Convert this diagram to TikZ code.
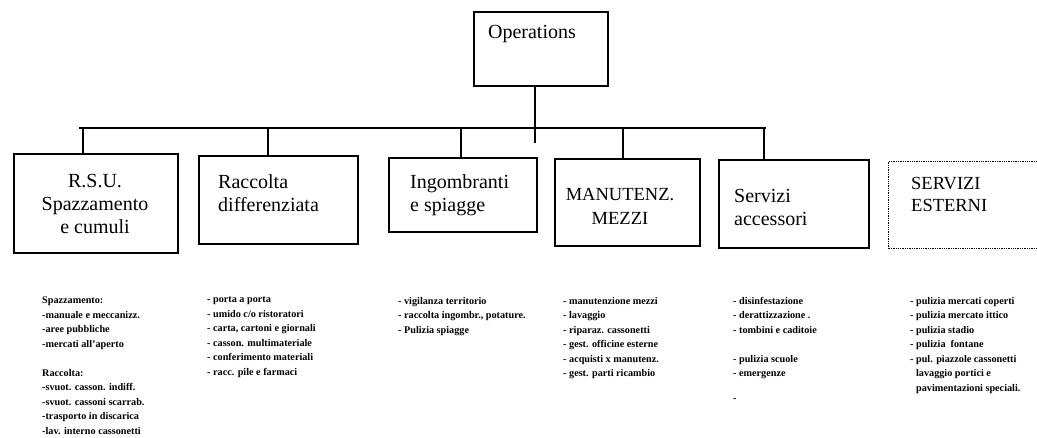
\documentclass[tikz,border=0pt]{standalone}
\usepackage{fontspec}
\setmainfont{Liberation Serif}
\begin{document}
\begin{tikzpicture}[x=1pt,y=-1pt,
  box/.style={draw, line width=2.2pt, inner sep=0pt, anchor=north west},
  conn/.style={line width=1.9pt},
  big/.style={font=\fontsize{20}{23}\selectfont, inner sep=0pt},
  small/.style={font=\fontsize{10.2}{14.5}\selectfont\bfseries, align=left, anchor=north west, inner sep=0pt}]
\useasboundingbox (0,0) rectangle (1037,437);
\fill[white] (0,0) rectangle (1037,437);
\clip (0,0) rectangle (1037,437);

% boxes
\node[box, minimum width=134pt, minimum height=74pt] (ops) at (473,11) {};
\node[box, minimum width=164pt, minimum height=99pt] (rsu) at (13,153) {};
\node[box, minimum width=159pt, minimum height=88pt] (rac) at (198,155) {};
\node[box, minimum width=148pt, minimum height=74pt] (ing) at (388,157) {};
\node[box, minimum width=145pt, minimum height=87pt] (man) at (554,158) {};
\node[box, minimum width=150pt, minimum height=88pt] (acc) at (718,159) {};
\node[draw, densely dotted, line width=1.3pt, inner sep=0pt, anchor=north west,
      minimum width=170pt, minimum height=87pt] (est) at (888,161) {};

% box texts
\node[big] (opst) at (532,34) {Operations};
\node[big, align=center] (rsut) at (95,204) {R.S.U.\\Spazzamento\\e cumuli};
\node[big, align=left, anchor=west] (ract) at (218,193) {Raccolta\\differenziata};
\node[big, align=left, anchor=west] (ingt) at (410,195) {Ingombranti\\e spiagge};
\node[font=\fontsize{18.5}{24}\selectfont, inner sep=0pt, align=center] (mant) at (620,206) {MANUTENZ.\\MEZZI};
\node[big, align=left, anchor=west] (acct) at (734,207) {Servizi\\accessori};
\node[font=\fontsize{18.5}{22}\selectfont, inner sep=0pt, align=left, anchor=west] (estt) at (911,194) {SERVIZI\\ESTERNI};

% connectors
\coordinate (vbot) at (535,143);
\coordinate (hl) at (79,128);
\coordinate (hr) at (766,128);
\coordinate (d1) at (83,128);
\coordinate (d2) at (268,128);
\coordinate (d3) at (461,128);
\coordinate (d4) at (623,128);
\coordinate (d5) at (764,128);
\draw[conn] (ops.south -| vbot) -- (vbot);
\draw[conn] (hl) -- (hr);
\draw[conn] (d1) -- (d1 |- rsu.north);
\draw[conn] (d2) -- (d2 |- rac.north);
\draw[conn] (d3) -- (d3 |- ing.north);
\draw[conn] (d4) -- (d4 |- man.north);
\draw[conn] (d5) -- (d5 |- acc.north);

% lists
\node[small] (l1) at (42,297) {Spazzamento:\\-manuale e meccanizz.\\-aree pubbliche\\-mercati all'aperto\\[14.5pt]Raccolta:\\-svuot. casson. indiff.\\-svuot. cassoni scarrab.\\-trasporto in discarica\\-lav. interno cassonetti};
\node[small] (l2) at (207,297) {- porta a porta\\- umido c/o ristoratori\\- carta, cartoni e giornali\\- casson. multimateriale\\- conferimento materiali\\- racc. pile e farmaci};
\node[small] (l3) at (398,297) {- vigilanza territorio\\- raccolta ingombr., potature.\\- Pulizia spiagge};
\node[small] (l4) at (563,297) {- manutenzione mezzi\\- lavaggio\\- riparaz. cassonetti\\- gest. officine esterne\\- acquisti x manutenz.\\- gest. parti ricambio};
\node[small] (l5) at (733,297) {- disinfestazione\\- derattizzazione .\\- tombini e caditoie\\[14.5pt]- pulizia scuole\\- emergenze\\[10pt]-};
\node[small] (l6) at (910,297) {- pulizia mercati coperti\\- pulizia mercato ittico\\- pulizia stadio\\- pulizia\ \ fontane\\- pul. piazzole cassonetti\\\hphantom{- }lavaggio portici e\\\hphantom{- }pavimentazioni speciali.};
\end{tikzpicture}
\end{document}
